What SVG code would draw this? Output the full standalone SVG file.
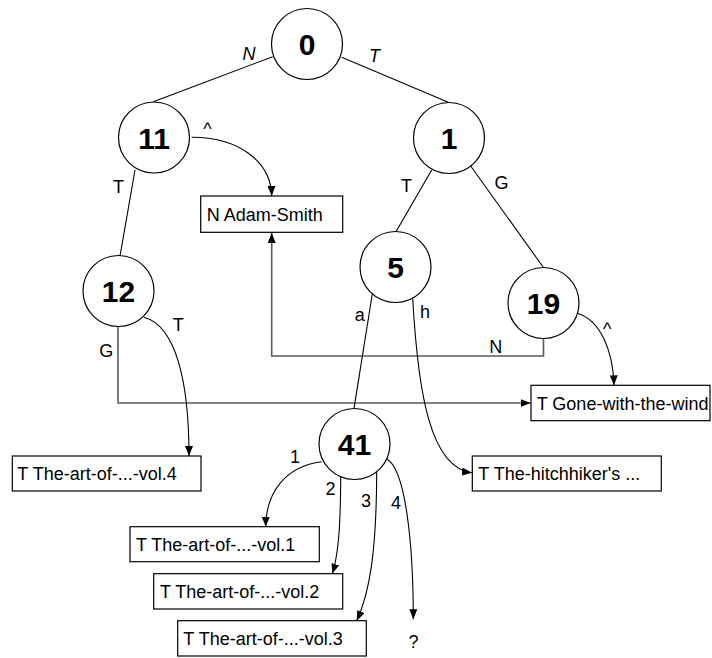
<svg xmlns="http://www.w3.org/2000/svg" width="712" height="658" viewBox="0 0 712 658">
  <style>
    .node circle { fill: #ffffff; stroke: #000000; stroke-width: 1.2; }
    .node text { font-family: "Liberation Sans", Arial, sans-serif; font-weight: bold; font-size: 30px; text-anchor: middle; fill: #000000; }
    .leaf rect { fill: #ffffff; stroke: #000000; stroke-width: 1.2; }
    .leaf text { font-family: "Liberation Sans", Arial, sans-serif; font-size: 18px; fill: #000000; }
    .edge { fill: none; stroke: #000000; stroke-width: 1.1; }
    .ortho { fill: none; stroke: #5a5a5a; stroke-width: 1.6; }
    .lbl { font-family: "Liberation Sans", Arial, sans-serif; font-size: 18px; text-anchor: middle; fill: #000000; }
    .ital { font-style: italic; }
  </style>
  <defs>
    <marker id="arrow" viewBox="0 0 10 8" refX="10" refY="4" markerWidth="10" markerHeight="8" markerUnits="userSpaceOnUse" orient="auto">
      <path d="M0,0 L10,4 L0,8 Z" fill="#000000"/>
    </marker>
  </defs>

  <rect width="712" height="658" fill="#ffffff"/>

  <!-- connectors -->
  <g id="connectors">
    <line class="edge" x1="272.7" y1="56.7" x2="153.3" y2="101.7"/>
    <line class="edge" x1="341.7" y1="57.3" x2="448.3" y2="102.3"/>
    <line class="edge" x1="135" y1="170" x2="120" y2="256"/>
    <path class="edge" d="M191.7,137.3 C236,137 271,160 271.7,196" marker-end="url(#arrow)"/>
    <line class="edge" x1="431.7" y1="170" x2="396" y2="231.7"/>
    <line class="edge" x1="470.7" y1="166" x2="543.3" y2="267.3"/>
    <path class="ortho" d="M543.5,338.5 L543.5,356 L271.7,356 L271.7,233" marker-end="url(#arrow)"/>
    <path class="edge" d="M577.3,313.3 C600,320 613,350 614,385.3" marker-end="url(#arrow)"/>
    <path class="ortho" d="M118,326 L118,403 L530.5,403" marker-end="url(#arrow)"/>
    <path class="edge" d="M144,317.3 C176,326 189,382 189,456" marker-end="url(#arrow)"/>
    <line class="edge" x1="372.3" y1="294" x2="354" y2="408.3"/>
    <path class="edge" d="M412.7,298.5 C418,392 430,468 472,472.7" marker-end="url(#arrow)"/>
    <path class="edge" d="M321.7,461.7 C286,466 266,492 265.7,526.7" marker-end="url(#arrow)"/>
    <path class="edge" d="M340.7,476.7 C340.5,530 338,556 332.3,573.7" marker-end="url(#arrow)"/>
    <path class="edge" d="M376.7,472 C376.5,550 370,592 356.7,620.7" marker-end="url(#arrow)"/>
    <path class="edge" d="M387.3,459.3 C405,470 413.3,540 413.3,619.3" marker-end="url(#arrow)"/>

    <!-- edge labels -->
    <text class="lbl ital" x="249" y="60">N</text>
    <text class="lbl ital" x="374.5" y="61.7">T</text>
    <text class="lbl" x="207.5" y="134.5">^</text>
    <text class="lbl" x="118.5" y="192.7">T</text>
    <text class="lbl" x="406.5" y="191.7">T</text>
    <text class="lbl" x="501.5" y="189.3">G</text>
    <text class="lbl" x="178.3" y="330.7">T</text>
    <text class="lbl" x="106.3" y="356.7">G</text>
    <text class="lbl" x="359.7" y="320.7">a</text>
    <text class="lbl" x="425" y="318.3">h</text>
    <text class="lbl" x="495.8" y="353.3">N</text>
    <text class="lbl" x="607.3" y="334.6">^</text>
    <text class="lbl" x="295" y="463">1</text>
    <text class="lbl" x="330.5" y="495">2</text>
    <text class="lbl" x="366" y="506.7">3</text>
    <text class="lbl" x="396" y="509.3">4</text>
    <text class="lbl" x="413.5" y="648.3">?</text>
  </g>

  <!-- trie nodes -->
  <g id="node-0" class="node"><circle cx="307" cy="44" r="35.5"/><text x="307" y="55">0</text></g>
  <g id="node-11" class="node"><circle cx="154" cy="137.5" r="35.5"/><text x="154" y="148.5">11</text></g>
  <g id="node-1" class="node"><circle cx="449" cy="138" r="35.5"/><text x="449" y="149">1</text></g>
  <g id="node-5" class="node"><circle cx="395.5" cy="267" r="35.5"/><text x="395.5" y="278">5</text></g>
  <g id="node-19" class="node"><circle cx="543.5" cy="303" r="35.5"/><text x="543.5" y="314">19</text></g>
  <g id="node-12" class="node"><circle cx="118.5" cy="291" r="35.5"/><text x="118.5" y="302">12</text></g>
  <g id="node-41" class="node"><circle cx="354.5" cy="444" r="35.5"/><text x="354.5" y="455">41</text></g>

  <!-- leaf records -->
  <g id="leaf-adam-smith" class="leaf"><rect x="200.7" y="196" width="142" height="36.3"/><text x="206.7" y="220.5">N Adam-Smith</text></g>
  <g id="leaf-vol4" class="leaf"><rect x="12.3" y="456" width="188.7" height="35"/><text x="17.3" y="480">T The-art-of-...-vol.4</text></g>
  <g id="leaf-gone" class="leaf"><rect x="531" y="385.3" width="179" height="35.4"/><text x="536.7" y="409.5">T Gone-with-the-wind</text></g>
  <g id="leaf-hitchhiker" class="leaf"><rect x="472.3" y="456" width="189" height="35"/><text x="478.3" y="480">T The-hitchhiker's ...</text></g>
  <g id="leaf-vol1" class="leaf"><rect x="130" y="526.7" width="189.3" height="35"/><text x="136" y="551">T The-art-of-...-vol.1</text></g>
  <g id="leaf-vol2" class="leaf"><rect x="153.7" y="573.7" width="189" height="35.3"/><text x="160" y="598">T The-art-of-...-vol.2</text></g>
  <g id="leaf-vol3" class="leaf"><rect x="177.7" y="620.7" width="188.6" height="35.3"/><text x="183.3" y="645">T The-art-of-...-vol.3</text></g>
</svg>
